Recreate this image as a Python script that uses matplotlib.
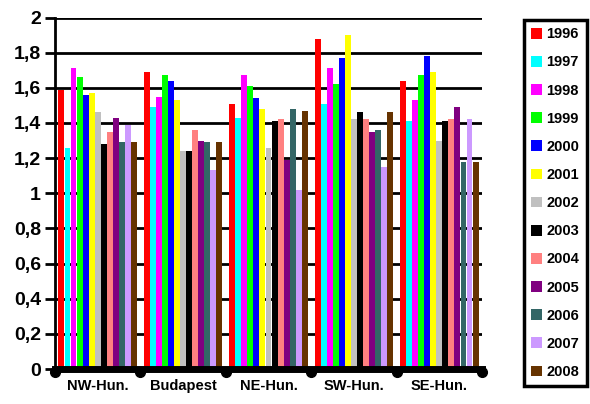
import matplotlib.pyplot as plt
import numpy as np

regions = ['NW-Hun.', 'Budapest', 'NE-Hun.', 'SW-Hun.', 'SE-Hun.']
years = ['1996', '1997', '1998', '1999', '2000', '2001', '2002',
         '2003', '2004', '2005', '2006', '2007', '2008']
colors = ['#ff0000', '#00ffff', '#ff00ff', '#00ff00', '#0000ff', '#ffff00',
          '#c0c0c0', '#000000', '#ff8080', '#800080', '#336666', '#cc99ff',
          '#663300']

# values per year, one entry per region
v1996 = [1.59, 1.69, 1.51, 1.88, 1.64]
v1997 = [1.26, 1.49, 1.43, 1.51, 1.41]
v1998 = [1.71, 1.55, 1.67, 1.71, 1.53]
v1999 = [1.66, 1.67, 1.61, 1.62, 1.67]
v2000 = [1.56, 1.64, 1.54, 1.77, 1.78]
v2001 = [1.57, 1.53, 1.48, 1.90, 1.69]
v2002 = [1.46, 1.24, 1.26, 1.42, 1.30]
v2003 = [1.28, 1.24, 1.41, 1.46, 1.41]
v2004 = [1.35, 1.36, 1.42, 1.42, 1.42]
v2005 = [1.43, 1.30, 1.19, 1.35, 1.49]
v2006 = [1.29, 1.29, 1.48, 1.36, 1.18]
v2007 = [1.39, 1.13, 1.02, 1.15, 1.42]
v2008 = [1.29, 1.29, 1.47, 1.46, 1.18]
values = [v1996, v1997, v1998, v1999, v2000, v2001, v2002,
          v2003, v2004, v2005, v2006, v2007, v2008]

yticks = [0, 0.2, 0.4, 0.6, 0.8, 1, 1.2, 1.4, 1.6, 1.8, 2]
ylabels = ['0', '0,2', '0,4', '0,6', '0,8', '1', '1,2', '1,4', '1,6',
           '1,8', '2']

plt.rcParams['font.family'] = ['Liberation Sans', 'DejaVu Sans']
plt.rcParams['font.weight'] = 'bold'

fig = plt.figure(figsize=(5.9, 4.04), dpi=100)
ax = fig.add_axes([55 / 590, 35 / 404, 427 / 590, 351.5 / 404])

n = len(years)
w = 0.92 / n
x = np.arange(len(regions))
for i in range(n):
    ax.bar(x - 0.46 + w * (i + 0.5), values[i], w * 0.98,
           color=colors[i], label=years[i], zorder=3)

ax.set_xlim(-0.5, len(regions) - 0.5)
ax.set_ylim(0, 2)
ax.set_yticks(yticks)
ax.set_yticklabels(ylabels, fontsize=14, fontweight='bold')
ax.set_xticks(x)
ax.set_xticklabels(regions, fontsize=10.5, fontweight='bold')
ax.tick_params(axis='x', length=0, pad=7)
ax.tick_params(axis='y', length=7, width=2, direction='out', pad=3)
for y in yticks[1:]:
    ax.axhline(y, color='black', lw=2, zorder=1)

for s in ['top', 'right']:
    ax.spines[s].set_visible(False)
ax.spines['left'].set_linewidth(2)
ax.spines['bottom'].set_linewidth(5)
ax.spines['bottom'].set_zorder(4)
ax.plot(np.arange(len(regions) + 1) - 0.5, [-0.015] * (len(regions) + 1),
        'o', color='black', ms=7, clip_on=False, zorder=5)

leg = fig.legend(loc='upper left', bbox_to_anchor=(524 / 590, 1 - 20 / 404),
                 borderaxespad=0, prop={'weight': 'bold', 'size': 10.5},
                 handlelength=0.75, handleheight=0.75, handletextpad=0.3,
                 labelspacing=0.97, borderpad=0.5, fancybox=False,
                 framealpha=1, edgecolor='black')
leg.get_frame().set_linewidth(2.5)

fig.savefig('out.png', dpi=100)
